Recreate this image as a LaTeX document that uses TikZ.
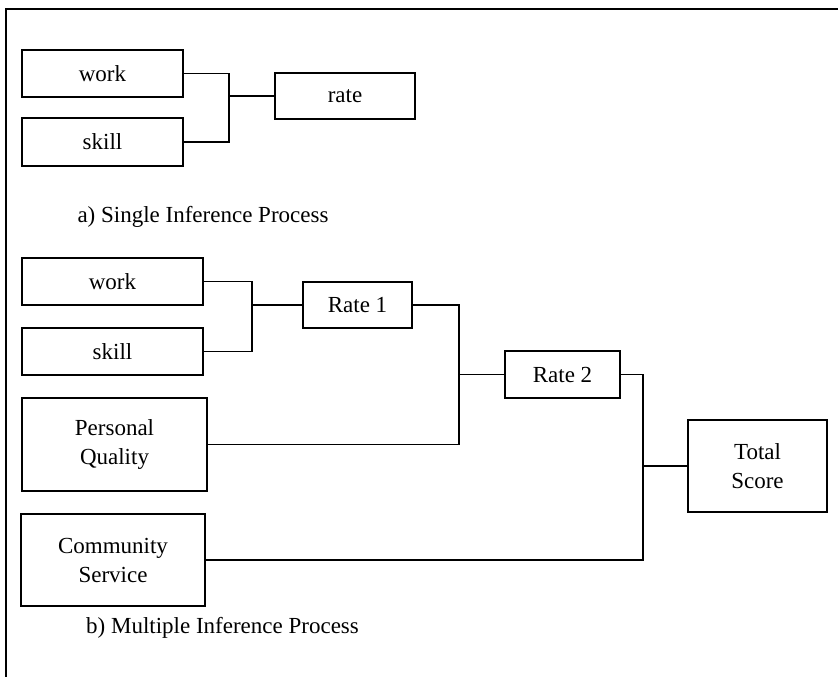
\documentclass[tikz,border=0pt]{standalone}
\usepackage{fontspec}
\setmainfont{Liberation Serif}
\usetikzlibrary{positioning}

\begin{document}
\begin{tikzpicture}[x=1pt,y=-1pt,line width=1.5pt,
  font=\fontsize{23}{29}\selectfont,
  box/.style={draw,inner sep=0pt,align=center}]
  \useasboundingbox (0,0) rectangle (838,677);
  % Frame
  \draw (838,9) -- (6,9) -- (6,677);
  % a) single inference
  \node[box,minimum width=161,minimum height=47] (wa) at (102.5,73.5) {work};
  \node[box,minimum width=161,minimum height=48] (sa) at (102.5,142) {skill};
  \node[box,minimum width=140,minimum height=46] (ra) at (345,96) {rate};
  \coordinate (ja) at (229,96);
  \draw (wa.east) -| (ja) |- (sa.east);
  \draw (ja) -- (ra.west);
  \node (capa) at (203,217) {a) Single Inference Process};
  % b) multiple inference
  \node[box,minimum width=181,minimum height=47] (wb) at (112.5,281.5) {work};
  \node[box,minimum width=181,minimum height=47] (sb) at (112.5,351.5) {skill};
  \node[box,minimum width=185,minimum height=93] (pq) at (114.5,444.5) {Personal\\Quality};
  \node[box,minimum width=184,minimum height=92] (cs) at (113,560) {Community\\Service};
  \node[box,minimum width=109,minimum height=46] (r1) at (357.5,305) {Rate 1};
  \node[box,minimum width=115,minimum height=47] (r2) at (562.5,374.5) {Rate 2};
  \node[box,minimum width=139,minimum height=92] (tot) at (757.5,466) {Total\\Score};
  \coordinate (jb1) at (252,305);
  \coordinate (jb2) at (459,374.5);
  \coordinate (jb3) at (643,466);
  \draw (wb.east) -| (jb1) |- (sb.east);
  \draw (jb1) -- (r1.west);
  \draw (r1.east) -| (jb2) |- (pq.east);
  \draw (jb2) -- (r2.west);
  \draw (r2.east) -| (jb3) |- (cs.east);
  \draw (jb3) -- (tot.west);
  \node (capb) at (222.5,628) {b) Multiple Inference Process};
\end{tikzpicture}
\end{document}
